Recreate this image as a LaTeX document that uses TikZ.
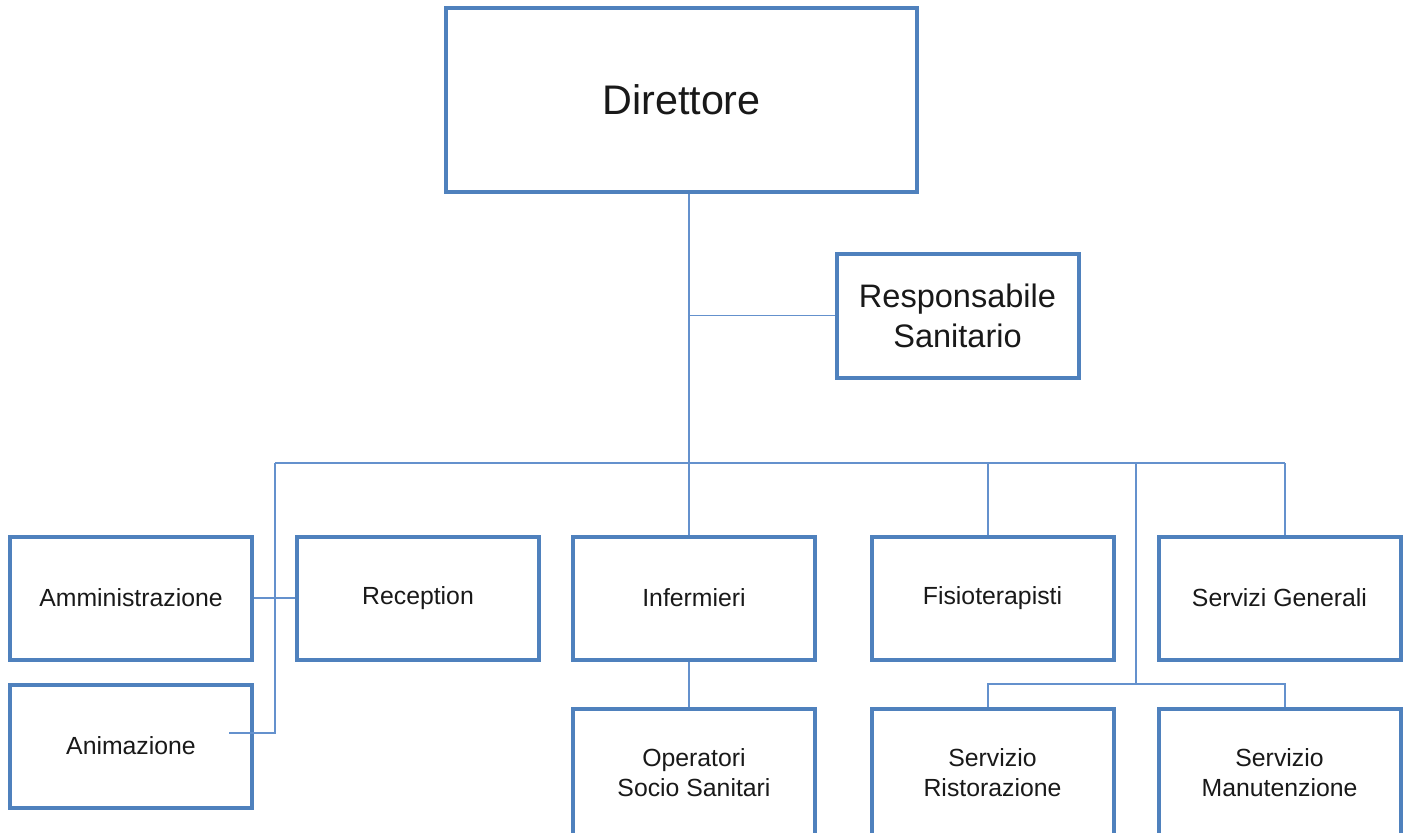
\documentclass[tikz,border=0pt]{standalone}
\usepackage{fontspec}
\setmainfont{Liberation Sans}
\definecolor{boxblue}{RGB}{79,129,189}
\definecolor{lineblue}{RGB}{100,145,205}
\definecolor{txt}{RGB}{25,25,25}
\begin{document}
\begin{tikzpicture}[x=0.75pt,y=-0.75pt,
  box/.style={draw=boxblue, line width=3pt, fill=white, inner sep=0pt, align=center,
    text=txt, minimum width=181.5pt, minimum height=92.25pt,
    font=\fontsize{18.6pt}{22.5pt}\selectfont},
  lowbox/.style={box, minimum height=95.25pt},
  conn/.style={draw=lineblue, line width=1.2pt}]
\useasboundingbox (0,0) rectangle (1410,832);
\begin{scope}
\clip (0,0) rectangle (1410,832);
% connector coordinates
\coordinate (trunk) at (689,463);
\coordinate (busL) at (275,463);
\coordinate (busR) at (1285,463);
\coordinate (bF) at (988,463);
\coordinate (bM) at (1136,463);
\coordinate (jM) at (1136,684);
\coordinate (aniend) at (229,733);
% nodes
\node[box, minimum width=353.25pt, minimum height=138pt, font=\fontsize{31pt}{36pt}\selectfont] (dir) at (681.5,100) {Direttore};
\node[box, minimum height=93pt, font=\fontsize{24.4pt}{30pt}\selectfont] (resp) at (957.5,315.5) {Responsabile\\Sanitario};
\node[box] (amm) at (131,598) {Amministrazione};
\node[box] (rec) at (418,598) {Reception};
\node[box] (inf) at (694,598) {Infermieri};
\node[box] (fis) at (992.5,598) {Fisioterapisti};
\node[box] (sg) at (1279.5,598) {Servizi Generali};
\node[box] (ani) at (131,746) {Animazione};
\node[lowbox] (oss) at (694,772.5) {Operatori\\Socio Sanitari};
\node[lowbox] (ris) at (992.5,772.5) {Servizio\\Ristorazione};
\node[lowbox] (man) at (1279.5,772.5) {Servizio\\Manutenzione};
% connectors
\draw[conn] (dir.south -| trunk) -- (trunk);
\draw[conn] (trunk |- resp.west) -- (resp.west);
\draw[conn] (busL) -- (busR);
\draw[conn] (busL) -- (busL |- aniend) -- (aniend);
\draw[conn] (amm.east) -- (rec.west);
\draw[conn] (trunk) -- (trunk |- inf.north);
\draw[conn] (inf.south -| trunk) -- (trunk |- oss.north);
\draw[conn] (bF) -- (bF |- fis.north);
\draw[conn] (busR) -- (busR |- sg.north);
\draw[conn] (bM) -- (jM);
\draw[conn] (ris.north -| bF) -- (bF |- jM) -- (busR |- jM) -- (man.north -| busR);
\end{scope}
\end{tikzpicture}
\end{document}
